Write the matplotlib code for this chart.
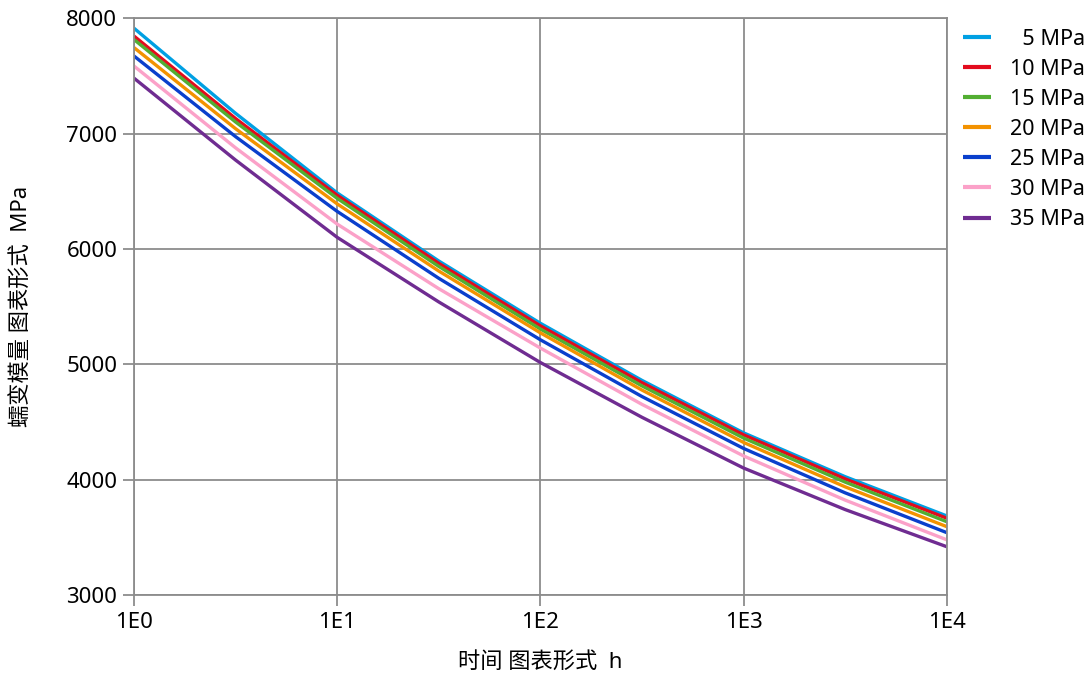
import numpy as np
import matplotlib
matplotlib.use('Agg')
import matplotlib.pyplot as plt

plt.rcParams['font.family'] = ['Noto Sans', 'Noto Sans CJK SC', 'DejaVu Sans']

# 数据 (读取自图)
hours = [1, 3.162, 10, 31.62, 100, 316.2, 1000, 3162, 10000]
labels = ['\u20075 MPa', '10 MPa', '15 MPa', '20 MPa', '25 MPa', '30 MPa', '35 MPa']
colors = ['#00a0e3', '#e30b1d', '#52ae32', '#f39200', '#0a3fcc', '#fba1c8', '#6f2c91']

mod_5 = [7913, 7175, 6485, 5895, 5355, 4860, 4405, 4025, 3685]
mod_10 = [7845, 7130, 6465, 5875, 5333, 4840, 4388, 4006, 3665]
mod_15 = [7815, 7100, 6438, 5848, 5305, 4812, 4360, 3978, 3635]
mod_20 = [7745, 7042, 6390, 5808, 5272, 4776, 4322, 3937, 3592]
mod_25 = [7672, 6973, 6325, 5745, 5212, 4720, 4270, 3885, 3540]
mod_30 = [7585, 6876, 6215, 5655, 5140, 4652, 4205, 3822, 3478]
mod_35 = [7480, 6770, 6100, 5540, 5015, 4540, 4100, 3740, 3418]
series = [mod_5, mod_10, mod_15, mod_20, mod_25, mod_30, mod_35]

xticks = [1, 10, 100, 1000, 10000]
xticklabels = ['1E0', '1E1', '1E2', '1E3', '1E4']
yticks = [3000, 4000, 5000, 6000, 7000, 8000]

fig = plt.figure(figsize=(10.91, 6.73), dpi=100)
ax = fig.add_axes([0.1228, 0.116, 0.745, 0.857])

for vals, lab, col in zip(series, labels, colors):
    ax.plot(hours, vals, color=col, lw=2.4, label=lab, solid_capstyle='butt')

ax.set_xscale('log')
ax.set_xlim(1, 10000)
ax.set_ylim(3000, 8000)
ax.set_xticks(xticks)
ax.set_xticklabels(xticklabels)
ax.set_yticks(yticks)
ax.minorticks_off()
ax.grid(True, color='#8c8c8c', lw=1.3)
for s in ax.spines.values():
    s.set_color('#8c8c8c')
    s.set_linewidth(1.3)
ax.tick_params(colors='#8c8c8c', labelcolor='black', length=8, width=1.3, labelsize=16, pad=4)

ax.set_xlabel('时间 图表形式  h', fontsize=16, labelpad=14)
ax.set_ylabel('蠕变模量 图表形式  MPa', fontsize=16, labelpad=24)

leg = fig.legend(loc='upper left', bbox_to_anchor=(0.875, 0.97), frameon=False, borderaxespad=0,
                 fontsize=15.5, handlelength=1.3, labelspacing=0.42, handletextpad=0.85)
for h in leg.legend_handles:
    h.set_linewidth(3)

fig.savefig('out.png', dpi=100)
